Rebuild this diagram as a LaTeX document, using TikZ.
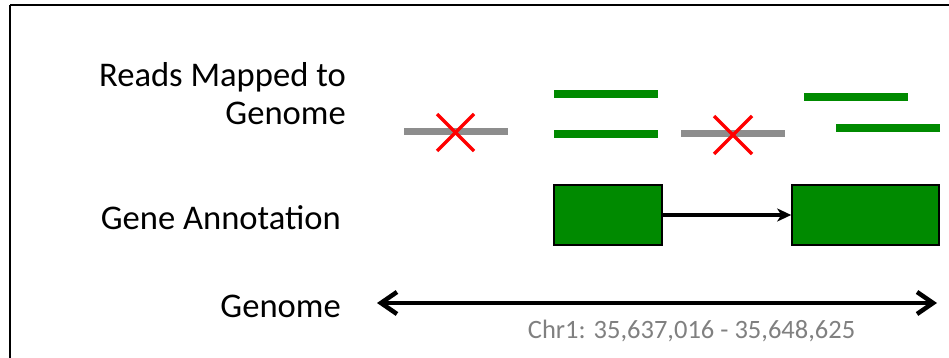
\documentclass[tikz,border=0pt]{standalone}
\usepackage{fontspec}
\setmainfont{Carlito}
\usetikzlibrary{arrows.meta}
\definecolor{readgreen}{RGB}{0,138,0}
\definecolor{readgray}{RGB}{141,141,141}
\definecolor{labelgray}{RGB}{128,128,128}
\tikzset{
  goodread/.style={draw=readgreen, line width=7.5pt},
  badread/.style={draw=readgray, line width=7pt},
  rejectmark/.style={draw=red, line width=3.5pt},
  exon/.style={draw=black, line width=1.6pt, fill=readgreen, minimum height=60pt, inner sep=0pt},
  rowlabel/.style={font=\fontsize{34.6}{38}\selectfont, anchor=east, align=right, inner sep=0pt},
  axisline/.style={line width=4pt,
    arrows={Straight Barb[length=16pt, width=22pt, line width=4.5pt]-Straight Barb[length=16pt, width=22pt, line width=4.5pt]}},
}
\begin{document}
\begin{tikzpicture}[x=1pt, y=-1pt]
\useasboundingbox (0,0) rectangle (949,358);
\clip (0,0) rectangle (949,358);
% outer frame
\draw[line width=2pt] (10,5) -- (960,5);
\draw[line width=2pt] (10,5) -- (10,370);

% row labels
\node[rowlabel] (readslbl) at (346,94) {Reads Mapped to\\Genome};
\node[rowlabel] (genelbl) at (341,218) {Gene Annotation};
\node[rowlabel] (genomelbl) at (341,306) {Genome};

% reads that map to the gene
\draw[goodread] (554,94) -- (658,94);
\draw[goodread] (554,134) -- (658,134);
\draw[goodread] (804,97) -- (908,97);
\draw[goodread] (836,128) -- (940,128);

% reads outside the gene, crossed out
\draw[badread] (404,132) -- (508,132);
\draw[rejectmark] (437,114) -- (474,151);
\draw[rejectmark] (437,151) -- (474,114);
\draw[badread] (681,134) -- (785,134);
\draw[rejectmark] (714,116) -- (752,154);
\draw[rejectmark] (714,154) -- (752,116);

% gene model: two exons joined by an intron arrow
\node[exon, minimum width=108pt] (exonA) at (608,215) {};
\node[exon, minimum width=147pt] (exonB) at (865.5,215) {};
\draw[line width=4pt, -{Stealth[length=14pt, width=13pt, inset=4pt]}] (exonA.east) -- (exonB.west);

% genome axis
\coordinate (gleft) at (377,303);
\coordinate (gright) at (937,303);
\draw[axisline] (gleft) -- (gright);
\node[text=labelgray, font=\fontsize{26.5}{30}\selectfont, inner sep=0pt] (coords) at (691.5,331) {Chr1: 35,637,016 - 35,648,625};
\end{tikzpicture}
\end{document}
